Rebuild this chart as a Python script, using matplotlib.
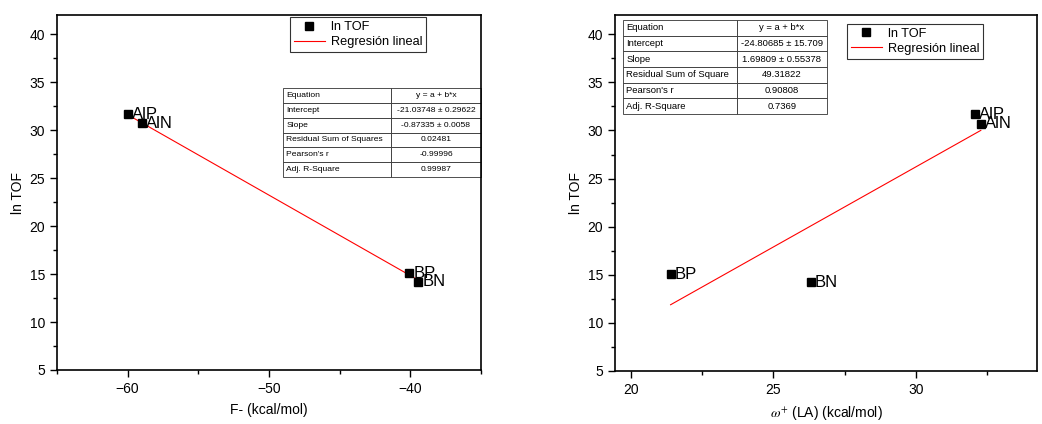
import numpy as np
import matplotlib
matplotlib.use("Agg")
import matplotlib.pyplot as plt
from matplotlib.ticker import MultipleLocator

plt.rcParams['font.family'] = ['Liberation Sans', 'DejaVu Sans']
plt.rcParams['mathtext.fontset'] = 'stix'

# datos
names = ["AlP", "AlN", "BP", "BN"]
ln_tof = [31.67, 30.7, 15.07, 14.2]
f_minus = [-60.0, -58.99, -40.06, -39.43]
omega_la = [32.07, 32.28, 21.40, 26.32]

rows = ["Equation", "Intercept", "Slope", "Residual Sum of Squares",
        "Pearson's r", "Adj. R-Square"]
vals_left = ["y = a + b*x", "-21.03748 \u00b1 0.29622", "-0.87335 \u00b1 0.0058",
             "0.02481", "-0.99996", "0.99987"]
rows_right = ["Equation", "Intercept", "Slope", "Residual Sum of Square",
              "Pearson's r", "Adj. R-Square"]
vals_right = ["y = a + b*x", "-24.80685 \u00b1 15.709", "1.69809 \u00b1 0.55378",
              "49.31822", "0.90808", "0.7369"]

fig = plt.figure(figsize=(10.42, 4.24), dpi=100)
ax1 = fig.add_axes([0.0547, 0.1274, 0.4069, 0.837])
ax2 = fig.add_axes([0.5902, 0.125, 0.405, 0.8396])


def panel(ax, x, xlim, xmaj, xlabel, rlab, vals, bbox, colw, tfs):
    ax.plot(x, ln_tof, 's', color='black', markersize=6, label='ln TOF', zorder=3)
    b, a = np.polyfit(x, ln_tof, 1)
    xs = np.array([min(x), max(x)])
    ax.plot(xs, a + b * xs, color='red', lw=0.8, label='Regresión lineal')
    for n, xi, yi in zip(names, x, ln_tof):
        ax.annotate(n, (xi, yi), xytext=(3, 0), textcoords='offset points',
                    fontsize=12, va='center', ha='left')
    ax.set_xlim(*xlim)
    ax.set_ylim(5, 42)
    ax.xaxis.set_major_locator(MultipleLocator(xmaj))
    ax.xaxis.set_minor_locator(MultipleLocator(xmaj / 2))
    ax.yaxis.set_major_locator(MultipleLocator(5))
    ax.yaxis.set_minor_locator(MultipleLocator(2.5))
    ax.tick_params(which='major', length=5, width=1, labelsize=10, direction='out')
    ax.tick_params(which='minor', length=3, width=1, direction='out')
    for s in ax.spines.values():
        s.set_linewidth(1.2)
    ax.set_xlabel(xlabel, fontsize=10, labelpad=5)
    ax.set_ylabel('ln TOF', fontsize=10, labelpad=3)
    tb = ax.table(cellText=[[r, v] for r, v in zip(rlab, vals)],
                  colWidths=colw, bbox=bbox, cellLoc='left')
    tb.auto_set_font_size(False)
    tb.set_fontsize(tfs)
    for (r, c), cell in tb.get_celld().items():
        cell.set_linewidth(0.6)
        cell.set_edgecolor('#333333')
        cell.PAD = 0.03
        if c == 1:
            cell._loc = 'center'
            cell.get_text().set_ha('center')
    return ax


panel(ax1, f_minus, (-65, -35), 10, 'F- (kcal/mol)', rows, vals_left,
      [0.533, 0.544, 0.467, 0.25], [0.545, 0.455], 6.1)
panel(ax2, omega_la, (19.45, 34.25), 5, r'$\omega^{+}$ (LA) (kcal/mol)',
      rows_right, vals_right, [0.019, 0.722, 0.483, 0.264], [0.56, 0.44], 6.8)

for ax, loc in [(ax1, (0.55, 0.994)), (ax2, (0.55, 0.975))]:
    leg = ax.legend(loc='upper left', bbox_to_anchor=loc, fontsize=9.2,
                    frameon=True, fancybox=False, handlelength=2.4,
                    borderpad=0.3, labelspacing=0.25, handletextpad=0.5,
                    borderaxespad=0.0)
    leg.get_frame().set_edgecolor('black')
    leg.get_frame().set_linewidth(0.8)

fig.savefig('out.png', dpi=100)
